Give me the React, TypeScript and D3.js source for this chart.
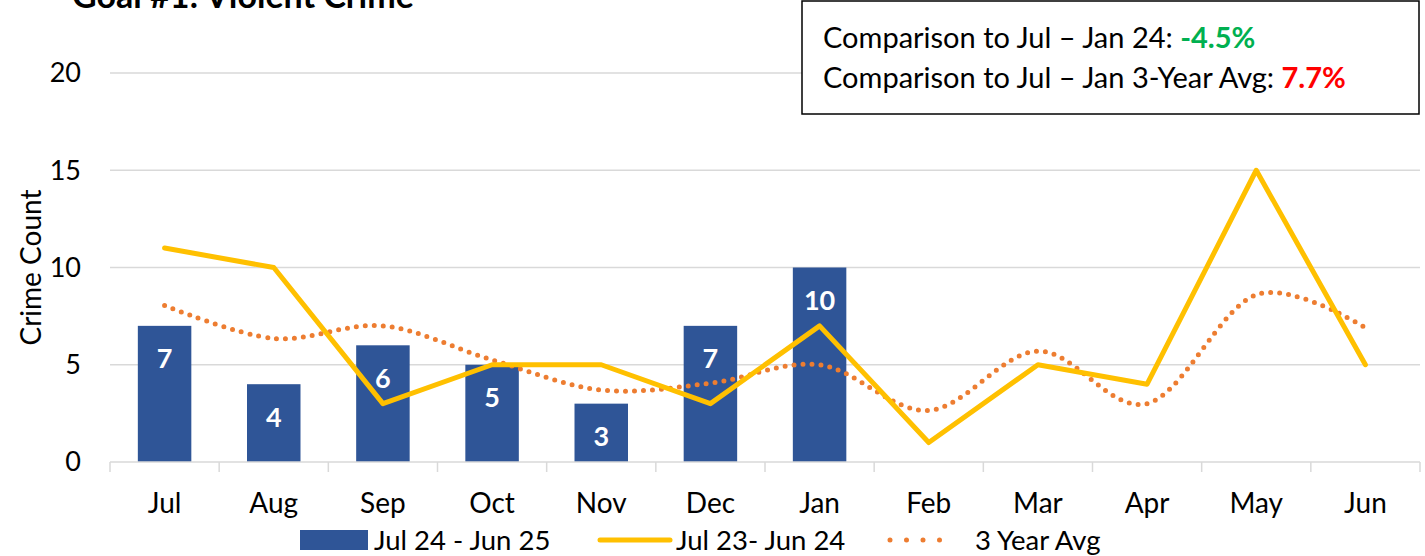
import { useEffect, useRef } from "react";
import * as d3 from "d3";

const months = ["Jul", "Aug", "Sep", "Oct", "Nov", "Dec", "Jan", "Feb", "Mar", "Apr", "May", "Jun"];
const current = [7, 4, 6, 5, 3, 7, 10];
const lastYear = [11, 10, 3, 5, 5, 3, 7, 1, 5, 4, 15, 5];
const avg3 = [8.05, 6.35, 7.0, 5.25, 3.7, 4.05, 5.0, 2.65, 5.7, 3.0, 8.6, 6.9];
const yTicks = [0, 5, 10, 15, 20];

const FONT = "Lato, 'Open Sans', sans-serif";

function App() {
  const ref = useRef<SVGSVGElement>(null);

  useEffect(() => {
    const svg = d3.select(ref.current);
    svg.selectAll("*").remove();

    const left = 110, right = 1420, top = 73, bottom = 462;

    const x = d3.scaleBand().domain(months).range([left, right]).paddingInner(0.51).paddingOuter(0.255);
    const xc = (m: string) => (x(m) as number) + x.bandwidth() / 2;
    const y = d3.scaleLinear().domain([0, 20]).range([bottom, top]);

    // gridlines
    svg.append("g")
      .selectAll("line")
      .data(yTicks.filter((d) => d > 0))
      .join("line")
      .attr("x1", left).attr("x2", right)
      .attr("y1", (d) => y(d)).attr("y2", (d) => y(d))
      .attr("stroke", "#d9d9d9").attr("stroke-width", 1.5);

    // y tick labels
    svg.append("g")
      .selectAll("text")
      .data(yTicks)
      .join("text")
      .attr("x", 81).attr("y", (d) => y(d))
      .attr("dy", "0.35em")
      .attr("text-anchor", "end")
      .style("font-family", FONT).style("font-size", "27px").attr("fill", "#000")
      .text((d) => d);

    // y label
    svg.append("text")
      .attr("transform", `translate(31,${(top + bottom) / 2})rotate(-90)`)
      .attr("text-anchor", "middle")
      .attr("dy", "0.35em")
      .style("font-family", FONT).style("font-size", "28px")
      .text("Crime Count");

    // bars
    const step = x.step();
    svg.append("g")
      .selectAll("rect")
      .data(current)
      .join("rect")
      .attr("x", (_, i) => x(months[i]) as number)
      .attr("width", x.bandwidth())
      .attr("y", (d) => y(d))
      .attr("height", (d) => bottom - y(d))
      .attr("fill", "#2F5597");

    svg.append("g")
      .selectAll("text")
      .data(current)
      .join("text")
      .attr("x", (_, i) => xc(months[i]))
      .attr("y", (d) => y(d) + 33)
      .attr("dy", "0.35em")
      .attr("text-anchor", "middle")
      .style("font-family", FONT).style("font-size", "27px").style("font-weight", "bold")
      .attr("fill", "#fff")
      .text((d) => d);

    // x axis
    svg.append("line")
      .attr("x1", left).attr("x2", right)
      .attr("y1", bottom).attr("y2", bottom)
      .attr("stroke", "#d9d9d9").attr("stroke-width", 1.5);
    svg.append("g")
      .selectAll("line")
      .data(d3.range(months.length + 1))
      .join("line")
      .attr("x1", (i) => left + i * step).attr("x2", (i) => left + i * step)
      .attr("y1", bottom).attr("y2", bottom + 10)
      .attr("stroke", "#d9d9d9").attr("stroke-width", 1.5);
    svg.append("g")
      .selectAll("text")
      .data(months)
      .join("text")
      .attr("x", (d) => xc(d))
      .attr("y", 503)
      .attr("dy", "0.35em")
      .attr("text-anchor", "middle")
      .style("font-family", FONT).style("font-size", "28px")
      .text((d) => d);

    // 3 year avg (smoothed, dotted)
    const avgLine = d3.line<number>()
      .x((_, i) => xc(months[i]))
      .y((d) => y(d))
      .curve(d3.curveCatmullRom.alpha(0));
    svg.append("path")
      .datum(avg3)
      .attr("fill", "none")
      .attr("stroke", "#ED7D31")
      .attr("stroke-width", 5)
      .attr("stroke-linecap", "round")
      .attr("stroke-dasharray", "0 9")
      .attr("d", avgLine);

    // last year line
    const lastLine = d3.line<number>()
      .x((_, i) => xc(months[i]))
      .y((d) => y(d));
    svg.append("path")
      .datum(lastYear)
      .attr("fill", "none")
      .attr("stroke", "#FFC000")
      .attr("stroke-width", 5)
      .attr("stroke-linejoin", "round")
      .attr("stroke-linecap", "round")
      .attr("d", lastLine);

    // title (cut off at top, as in the source image)
    svg.append("text")
      .attr("x", 72).attr("y", 8)
      .style("font-family", FONT).style("font-size", "34px").style("font-weight", "bold")
      .text("Goal #1: Violent Crime");

    // comparison box
    svg.append("rect")
      .attr("x", 802).attr("y", 1).attr("width", 617).attr("height", 113)
      .attr("fill", "#fff").attr("stroke", "#000").attr("stroke-width", 1.5);
    const t1 = svg.append("text")
      .attr("x", 823).attr("y", 48)
      .style("font-family", FONT).style("font-size", "29px");
    t1.append("tspan").text("Comparison to Jul \u2013 Jan 24: ");
    t1.append("tspan").attr("fill", "#00B050").style("font-weight", "bold").text("-4.5%");
    const t2 = svg.append("text")
      .attr("x", 823).attr("y", 88)
      .style("font-family", FONT).style("font-size", "29px");
    t2.append("tspan").text("Comparison to Jul \u2013 Jan 3-Year Avg: ");
    t2.append("tspan").attr("fill", "#FF0000").style("font-weight", "bold").text("7.7%");

    // legend
    const lg = svg.append("g").style("font-family", FONT).style("font-size", "27.5px");
    lg.append("rect").attr("x", 300).attr("y", 530).attr("width", 68).attr("height", 20).attr("fill", "#2F5597");
    lg.append("text").attr("x", 374).attr("y", 540).attr("dy", "0.35em").text("Jul 24 - Jun 25");
    lg.append("line").attr("x1", 600).attr("x2", 670).attr("y1", 540).attr("y2", 540)
      .attr("stroke", "#FFC000").attr("stroke-width", 5).attr("stroke-linecap", "round");
    lg.append("text").attr("x", 676).attr("y", 540).attr("dy", "0.35em").text("Jul 23- Jun 24");
    lg.append("line").attr("x1", 890).attr("x2", 956).attr("y1", 540).attr("y2", 540)
      .attr("stroke", "#ED7D31").attr("stroke-width", 5).attr("stroke-linecap", "round")
      .attr("stroke-dasharray", "0 16.5");
    lg.append("text").attr("x", 975).attr("y", 540).attr("dy", "0.35em").text("3 Year Avg");
  }, []);

  return (
    <svg
      ref={ref}
      width={1425}
      height={556}
      style={{ position: "absolute", left: 0, top: 0, background: "#fff" }}
    />
  );
}

export default App;
